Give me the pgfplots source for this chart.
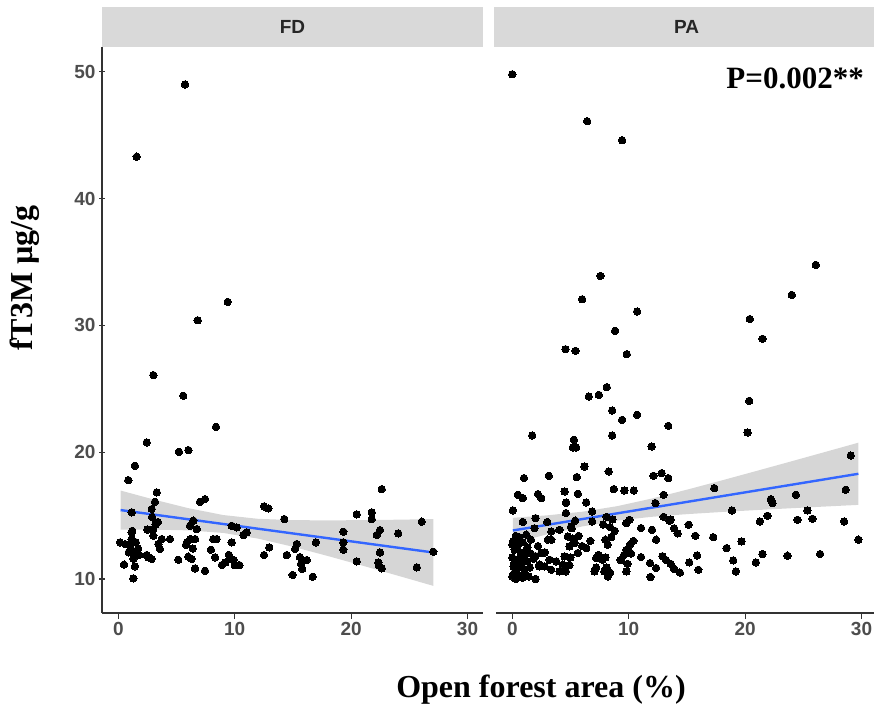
\documentclass[border=0pt]{standalone}
\usepackage{fontspec}
\setmainfont{Liberation Serif}
\setsansfont{Liberation Sans}
\usepackage{pgfplots}
\pgfplotsset{compat=1.18}

\definecolor{stripgrey}{HTML}{D9D9D9}
\definecolor{axisgrey}{HTML}{333333}
\definecolor{ticklab}{HTML}{4D4D4D}
\definecolor{striptext}{HTML}{262626}
\definecolor{fitblue}{HTML}{3366FF}
\definecolor{bandgrey}{HTML}{999999}

\pgfplotsset{
  panel/.style={
    scale only axis, width=381pt, height=566pt,
    xmin=-1.4, xmax=31.33, ymin=7.32, ymax=51.95,
    xtick={0,10,20,30}, ytick={10,20,30,40,50},
    axis x line=bottom,
    axis line style={-, draw=axisgrey, line width=1.2pt},
    tick align=outside, major tick length=6pt,
    tick style={draw=axisgrey, line width=1.2pt},
    ticklabel style={font=\sffamily\bfseries\fontsize{19}{19}\selectfont, text=ticklab},
    /pgf/number format/assume math mode=true,
    anchor=south west,
  },
  pts/.style={only marks, mark=*, mark size=3.7pt,
    mark options={fill=black, draw=black, line width=0pt}},
  band/.style={fill=bandgrey, fill opacity=0.4, draw=none},
  fit/.style={fitblue, line width=2.4pt, no marks},
}

\begin{document}
\begin{tikzpicture}
\useasboundingbox (0,0) rectangle (874pt,706pt);

% ---------------- FD panel ----------------
\begin{axis}[panel, name=fd, at={(102pt,93pt)}, axis y line=left,
  y axis line style={-}, x axis line style={-}]
\addplot[pts] coordinates {
(5.73,49.0) (1.58,43.3) (9.4,31.85) (6.82,30.4) (3.01,26.08) (5.58,24.45)
(8.39,22.0) (2.44,20.77) (5.21,20.03) (6.02,20.17) (1.43,18.93) (0.86,17.8)
(3.3,16.83) (3.15,16.09) (7.02,16.09) (7.45,16.3) (12.52,15.73) (12.89,15.57)
(22.63,17.09) (20.48,15.1) (21.77,15.26) (21.77,14.73) (26.07,14.52) (14.26,14.73)
(1.15,15.26) (2.87,15.52) (2.9,14.9) (3.2,14.3) (3.4,14.5) (3.0,13.9) (2.5,13.9)
(3.01,13.41) (1.15,13.68) (6.16,14.2) (6.74,13.94) (6.45,14.6) (9.74,14.2)
(10.17,14.07) (11.03,13.68) (10.74,13.47) (19.33,13.73) (19.33,12.89) (19.33,12.31)
(22.2,13.47) (22.48,13.86) (24.05,13.6) (22.48,12.1) (22.34,11.31) (22.4,11.05)
(22.63,10.84) (20.48,11.39) (25.64,10.92) (27.06,12.15) (16.98,12.89) (15.33,12.76)
(15.18,12.36) (14.47,11.89) (15.6,11.73) (16.19,11.5) (15.7,11.2) (15.8,10.8)
(14.98,10.32) (16.7,10.18) (12.52,11.89) (12.97,12.5) (9.74,12.89) (9.5,11.9)
(9.2,11.3) (9.6,11.6) (10.0,11.1) (10.4,11.1) (8.9,11.1) (9.9,11.5) (8.16,13.15)
(8.45,13.15) (7.96,12.31) (8.31,11.71) (7.45,10.65) (6.59,10.84) (6.01,11.76)
(6.3,11.58) (5.82,12.7) (6.2,13.15) (6.6,13.15) (6.4,12.4) (5.9,12.9) (5.15,11.52)
(3.58,12.36) (3.44,12.76) (3.73,13.15) (4.44,13.15) (2.87,11.58) (2.44,11.89)
(2.6,11.7) (0.15,12.89) (0.6,12.75) (1.0,12.6) (1.3,12.1) (1.7,12.4) (1.8,11.9)
(0.9,12.1) (1.5,12.9) (1.15,13.15) (1.3,11.6) (1.43,11.0) (0.49,11.13) (1.29,10.05)
(1.2,13.8)
};
% 95% confidence band of the linear fit
\addplot[band] coordinates {
(0.2,16.975) (3,16.279) (6,15.590) (9,15.046) (12,14.746) (15,14.642)
(18,14.624) (21,14.642) (24,14.677) (27.06,14.722)
(27.06,9.460) (24,10.267) (21,11.050) (18,11.814) (15,12.544) (12,13.186)
(9,13.634) (6,13.836) (3,13.895) (0.2,13.895)
} -- cycle;
\addplot[fit] coordinates {(0.2,15.435) (27.06,12.091)};
\end{axis}

% ---------------- PA panel ----------------
\begin{axis}[panel, name=pa, at={(496pt,93pt)}, axis y line=none, ytick=\empty,
  x axis line style={-}]
\addplot[pts] coordinates {
(0.0,49.8) (6.43,46.1) (9.43,44.6) (26.07,34.77) (7.57,33.9) (24.01,32.4)
(6.0,32.06) (10.72,31.09) (20.4,30.5) (21.49,28.94) (8.83,29.57) (4.57,28.12)
(5.43,27.99) (9.83,27.73) (8.11,25.13) (6.57,24.39) (7.43,24.52) (8.58,23.29)
(9.43,22.55) (10.72,22.95) (13.4,22.08) (20.35,24.05) (20.21,21.55) (1.71,21.32)
(5.29,20.98) (5.2,20.37) (5.49,20.37) (8.58,21.32) (11.97,20.45) (29.07,19.74)
(6.2,18.87) (8.28,18.48) (3.14,18.14) (1.0,17.96) (5.54,18.04) (12.12,18.14)
(12.83,18.35) (13.4,17.96) (17.35,17.17) (28.64,17.04) (0.48,16.64) (0.91,16.38)
(2.2,16.7) (2.49,16.38) (4.49,16.9) (5.63,16.72) (4.63,16.04) (6.35,16.04)
(8.72,17.09) (9.63,16.98) (10.43,16.98) (13.0,16.64) (12.29,15.99) (22.21,16.3)
(22.35,15.99) (24.36,16.64) (0.05,15.41) (25.35,15.41) (25.78,14.75) (18.87,15.41)
(28.5,14.54) (24.5,14.67) (21.92,14.99) (21.27,14.54) (29.73,13.1) (26.44,11.97)
(23.64,11.84) (21.49,11.97) (20.92,11.31) (19.69,12.96) (18.41,12.44) (18.98,11.47)
(19.21,10.6) (17.26,13.3) (15.87,11.86) (15.2,11.31) (15.98,10.73) (15.15,14.28)
(15.72,13.41) (13.9,14.0) (14.2,13.6) (13.5,14.6) (13.0,14.9) (13.6,14.7)
(12.35,13.1) (12.0,13.88) (11.06,14.02) (9.78,14.41) (10.06,14.67) (12.9,11.8)
(13.2,11.5) (13.6,11.2) (13.9,10.8) (14.4,10.5) (11.83,11.26) (11.86,10.16)
(12.35,10.87) (11.06,11.73) (10.4,13.0) (10.1,12.7) (9.8,12.3) (9.6,11.9)
(9.3,11.5) (9.8,10.6) (9.9,11.2) (10.2,12.0) (8.0,13.1) (8.2,12.7) (8.5,13.3)
(8.8,13.8) (8.4,14.1) (7.8,14.3) (8.1,14.9) (8.6,14.7) (7.4,11.9) (8.0,11.7)
(7.2,10.9) (8.1,10.9) (8.4,10.5) (7.2,11.65) (7.77,11.52) (7.06,10.6) (7.9,10.6)
(8.2,10.2) (6.35,12.44) (5.63,12.05) (5.34,12.84) (4.91,12.57) (4.77,13.36)
(5.06,14.15) (6.7,13.0) (6.0,12.6) (5.7,13.4) (5.2,13.2) (5.1,14.0) (5.4,14.6)
(4.6,16.0) (4.6,15.2) (6.86,15.33) (6.86,14.54) (4.49,11.78) (4.34,11.13)
(3.77,11.39) (4.06,10.6) (3.34,10.73) (3.2,11.52) (2.77,11.0) (2.34,11.13)
(2.49,12.05) (3.05,13.1) (5.0,11.7) (4.9,11.1) (4.6,10.6) (2.8,12.1) (2.0,10.0)
(3.35,13.75) (3.35,13.1) (4.06,13.88) (2.0,14.8) (0.9,14.5) (3.0,14.5) (1.9,14.0)
(1.2,13.5) (0.3,13.4) (0.1,13.0) (0.5,12.7) (0.9,12.9) (1.3,12.5) (0.2,12.3)
(0.7,12.1) (1.1,11.9) (1.6,12.0) (0.0,11.7) (0.4,11.5) (0.8,11.3) (1.3,11.4)
(1.8,11.6) (0.1,11.0) (0.5,10.9) (1.0,10.8) (1.5,10.9) (0.2,10.5) (0.6,10.3)
(1.1,10.4) (0.0,10.2) (0.4,12.9) (1.6,13.1) (2.2,12.6) (2.3,11.0) (2.0,11.8)
(0.3,10.0) (0.9,10.1) (1.4,10.2) (0.2,11.3) (0.7,11.6) (1.2,12.3) (0.0,12.7)
(0.6,13.3)
};
% 95% confidence band of the linear fit
\addplot[band] coordinates {
(0.05,14.824) (3,15.022) (6,15.304) (9,15.743) (12,16.348) (15,17.043)
(18,17.776) (21,18.527) (24,19.286) (27,20.051) (29.73,20.750)
(29.73,15.845) (27,15.721) (24,15.582) (21,15.438) (18,15.285) (15,15.115)
(12,14.906) (9,14.607) (6,14.144) (3,13.522) (0.05,12.832)
} -- cycle;
\addplot[fit] coordinates {(0.05,13.828) (29.73,18.297)};
\node[anchor=base east, font=\bfseries\fontsize{31}{31}\selectfont]
  at (axis cs:30.5,48.7) {P=0.002**};
\end{axis}

% facet strips
\fill[stripgrey] (fd.north west) rectangle ([yshift=40pt]fd.north east);
\fill[stripgrey] ([xshift=-2pt]pa.north west) rectangle ([yshift=40pt]pa.north east);
\node[font=\sffamily\bfseries\fontsize{19}{19}\selectfont, text=striptext]
  at ([yshift=20pt]fd.north) {FD};
\node[font=\sffamily\bfseries\fontsize{19}{19}\selectfont, text=striptext]
  at ([yshift=20pt]pa.north) {PA};

% axis titles
\node[rotate=90, font=\bfseries\fontsize{32}{32}\selectfont] at (25pt,428pt) {fT3M µg/g};
\node[anchor=base, font=\bfseries\fontsize{32}{32}\selectfont] at (541pt,9pt) {Open forest area (\%)};
\end{tikzpicture}
\end{document}
